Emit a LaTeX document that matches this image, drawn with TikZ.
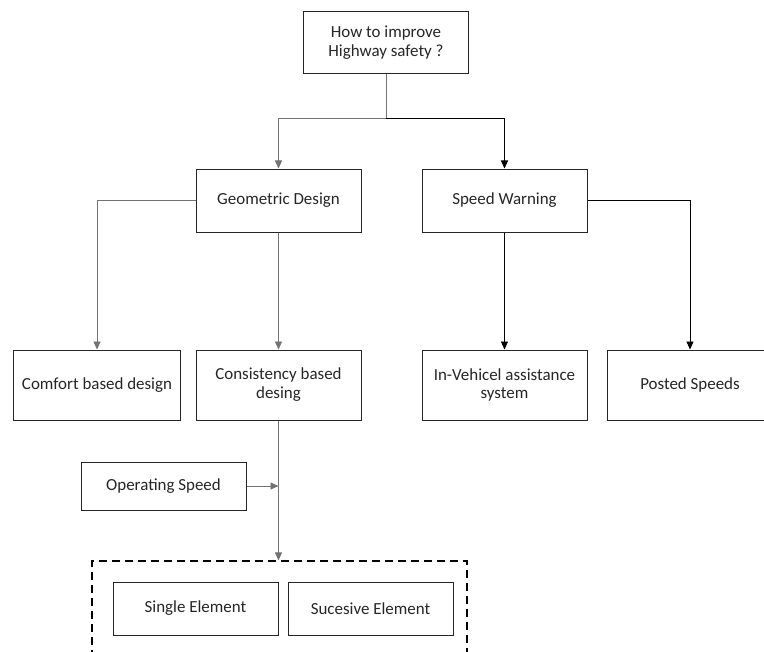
\documentclass[tikz,border=0pt]{standalone}
\usepackage{fontspec}
\setmainfont{Carlito}
\usetikzlibrary{arrows.meta}
\tikzset{
  box/.style={draw=black!85, line width=1bp, minimum width=165bp, inner sep=0pt, align=center, text=black!85, font=\fontsize{17}{19}\selectfont},
  gl/.style={draw=black!55, line width=0.9bp},
  bl/.style={draw=black, line width=0.9bp},
  tip/.style={-{Triangle[length=8bp,width=7bp]}},
}
\begin{document}
\begin{tikzpicture}[x=1bp,y=-1bp]
\clip (0,0) rectangle (764,652);
\fill[white] (0,0) rectangle (764,652);
\node[box, minimum height=62bp] (top) at (386,43) {How to improve\\Highway safety ?};
\node[box, minimum height=63bp] (geo) at (278.5,200.5) {Geometric Design};
\node[box, minimum height=63bp] (spd) at (504.5,200.5) {Speed Warning};
\node[box, minimum height=70bp, minimum width=166bp] (comf) at (97,385) {Comfort based design};
\node[box, minimum height=70bp] (cons) at (278.5,385) {Consistency based\\desing};
\node[box, minimum height=70bp] (inv) at (504.5,385) {In-Vehicel assistance\\system};
\node[box, minimum height=70bp, minimum width=166bp] (post) at (690,385) {Posted Speeds};
\node[box, minimum height=48bp] (op) at (163.5,486) {Operating Speed};
\node[draw=black, line width=1.2bp, dash pattern=on 8bp off 5bp, minimum width=375bp, minimum height=110bp] (grp) at (279.5,616) {};
\node[box, minimum height=53bp] (single) at (195.5,608.5) {Single Element};
\node[box, minimum height=53bp] (suc) at (370.5,608.5) {Sucesive Element};
\coordinate (j) at (386,118);
\coordinate (m) at (278.5,486);
\draw[gl] (top.south) -- (j);
\draw[gl,tip] (j) -| (geo.north);
\draw[bl,tip] (j) -| (spd.north);
\draw[gl,tip] (geo.west) -| (comf.north);
\draw[gl,tip] (geo.south) -- (cons.south |- comf.north);
\draw[bl,tip] (spd.south) -- (inv.north);
\draw[bl,tip] (spd.east) -| (post.north);
\draw[gl,tip] (cons.south) -- (cons.south |- grp.north);
\draw[gl,tip] (op.east) -- (m);
\end{tikzpicture}
\end{document}
